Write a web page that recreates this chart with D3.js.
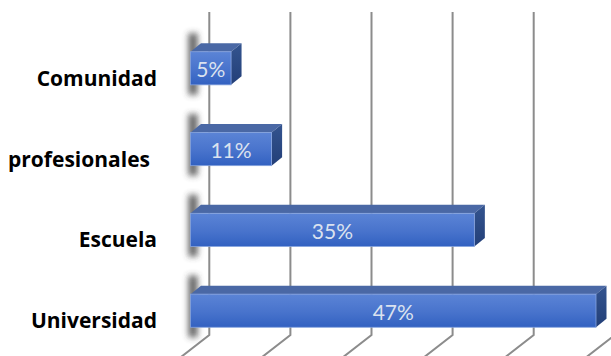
<!DOCTYPE html>
<html>
<head>
<meta charset="utf-8">
<script src="https://cdn.jsdelivr.net/npm/d3@7"></script>
<style>
  html, body { margin: 0; padding: 0; background: #fff; }
  svg { display: block; }
</style>
</head>
<body>
<svg id="chart" width="611" height="356"></svg>
<script>
// ---- data ----
const categories = ["Comunidad", "profesionales", "Escuela", "Universidad"];
const values = [5, 10, 35, 50];            // bar lengths on the value axis
const valueLabels = ["5%", "11%", "35%", "47%"];
const gridTicks = [0, 10, 20, 30, 40, 50];

// ---- layout ----
const W = 611, H = 356;
const svg = d3.select("#chart");

const x = d3.scaleLinear().domain([0, 50]).range([190.5, 596]);
const y = d3.scaleBand().domain(categories)
  .range([27.9, 351.1]).paddingInner(0.59).paddingOuter(0.295);

const depth = { dx: 10.5, dy: -8.5 };   // bar depth
const wall = { dx: 18.8 };              // back wall offset
const wallTop = 12, wallBottom = 335;

const defs = svg.append("defs");
const gFront = defs.append("linearGradient").attr("id", "front")
  .attr("x1", 0).attr("y1", 0).attr("x2", 0).attr("y2", 1);
gFront.append("stop").attr("offset", "0%").attr("stop-color", "#5b84d6");
gFront.append("stop").attr("offset", "55%").attr("stop-color", "#4873cc");
gFront.append("stop").attr("offset", "100%").attr("stop-color", "#3261c1");
const gSide = defs.append("linearGradient").attr("id", "side")
  .attr("x1", 0).attr("y1", 0).attr("x2", 0).attr("y2", 1);
gSide.append("stop").attr("offset", "0%").attr("stop-color", "#34548f");
gSide.append("stop").attr("offset", "100%").attr("stop-color", "#233f78");
defs.append("filter").attr("id", "blur").attr("x", "-100%").attr("y", "-50%")
  .attr("width", "300%").attr("height", "200%")
  .append("feGaussianBlur").attr("stdDeviation", 3);

// ---- gridlines (back wall + floor) ----
const grid = svg.append("g");
gridTicks.forEach(t => {
  const gx = x(t) + wall.dx;
  const slantDy = H + 10 - wallBottom;
  grid.append("path")
    .attr("d", `M${gx},${wallTop} L${gx},${wallBottom} L${gx - slantDy * 27 / 21},${H + 10}`)
    .attr("fill", "none").attr("stroke", "#8c8c8c").attr("stroke-width", 2);
});

// ---- bar shadows ----
const shadows = svg.append("g");
categories.forEach((c, i) => {
  const top = y(c) + depth.dy, bot = y(c) + y.bandwidth();
  shadows.append("rect")
    .attr("x", x(0) - 2).attr("y", top - 10)
    .attr("width", 9).attr("height", bot - top + 20)
    .attr("fill", "#3a3a3a").attr("opacity", 0.8)
    .attr("filter", "url(#blur)");
});

// ---- bars ----
const bars = svg.append("g").selectAll("g").data(categories).join("g");
bars.each(function (c, i) {
  const g = d3.select(this);
  const x0 = x(0), x1 = x(values[i]);
  const y0 = y(c), y1 = y(c) + y.bandwidth();
  const { dx, dy } = depth;
  // top face
  g.append("path")
    .attr("d", `M${x0},${y0} L${x0 + dx},${y0 + dy} L${x1 + dx},${y0 + dy} L${x1},${y0} Z`)
    .attr("fill", "#4a68a5");
  // side face
  g.append("path")
    .attr("d", `M${x1},${y0} L${x1 + dx},${y0 + dy} L${x1 + dx},${y1 + dy} L${x1},${y1} Z`)
    .attr("fill", "url(#side)");
  // front face
  g.append("rect")
    .attr("x", x0).attr("y", y0)
    .attr("width", x1 - x0).attr("height", y1 - y0)
    .attr("fill", "url(#front)")
    .attr("stroke", "#86a3de").attr("stroke-width", 0.8);
  // value label
  g.append("text")
    .attr("x", (x0 + x1) / 2).attr("y", (y0 + y1) / 2 + 9)
    .attr("text-anchor", "middle")
    .attr("font-family", "Lato, 'Open Sans', sans-serif")
    .attr("font-size", 21)
    .attr("fill", "#dbe2ef")
    .text(valueLabels[i]);
});

// ---- category labels ----
svg.append("g").selectAll("text").data(categories).join("text")
  .attr("x", d => d === "profesionales" ? 150 : 157)
  .attr("y", d => y(d) + y.bandwidth() + 1)
  .attr("text-anchor", "end")
  .attr("font-family", "'Open Sans', Lato, sans-serif")
  .attr("font-weight", "bold")
  .attr("font-size", 21)
  .attr("fill", "#000")
  .text(d => d);
</script>
</body>
</html>
